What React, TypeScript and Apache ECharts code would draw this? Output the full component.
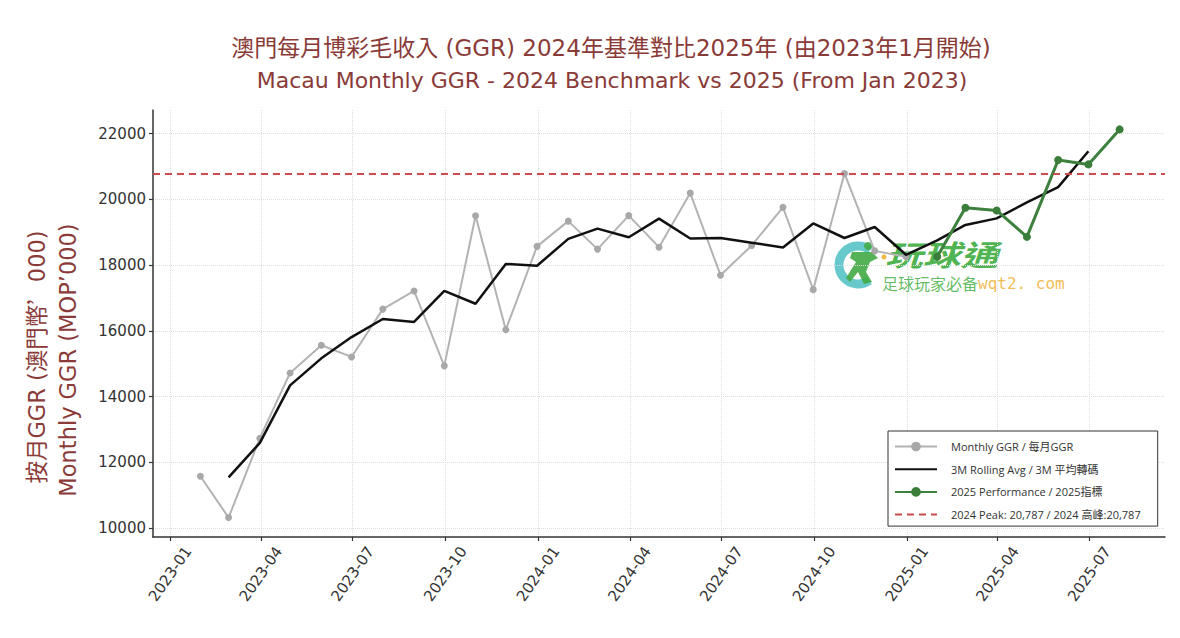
import React, { useEffect, useRef } from "react";
import * as echarts from "echarts";

const ggrDates = [
  "2023-01-31", "2023-02-28", "2023-03-31", "2023-04-30", "2023-05-31", "2023-06-30",
  "2023-07-31", "2023-08-31", "2023-09-30", "2023-10-31", "2023-11-30", "2023-12-31",
  "2024-01-31", "2024-02-29", "2024-03-31", "2024-04-30", "2024-05-31", "2024-06-30",
  "2024-07-31", "2024-08-31", "2024-09-30", "2024-10-31", "2024-11-30", "2024-12-31",
];
const ggrValues = [
  11580, 10324, 12738, 14722, 15565, 15208, 16662, 17213, 14937, 19501, 16036, 18569,
  19337, 18486, 19504, 18545, 20188, 17694, 18597, 19755, 17254, 20787, 18432, 18254,
];

const rollingDates = [
  "2023-02-28", "2023-03-31", "2023-04-30", "2023-05-31", "2023-06-30", "2023-07-31",
  "2023-08-31", "2023-09-30", "2023-10-31", "2023-11-30", "2023-12-31",
  "2024-01-31", "2024-02-29", "2024-03-31", "2024-04-30", "2024-05-31", "2024-06-30",
  "2024-07-31", "2024-08-31", "2024-09-30", "2024-10-31", "2024-11-30", "2024-12-31",
  "2025-01-31", "2025-02-28", "2025-03-31", "2025-04-30", "2025-05-31", "2025-06-30",
];
const rollingValues = [
  11547, 12595, 14342, 15165, 15812, 16361, 16271, 17217, 16825, 18035, 17981,
  18797, 19109, 18845, 19412, 18809, 18826, 18682, 18535, 19265, 18824, 19158, 18313,
  18751, 19220, 19421, 19904, 20370, 21460,
];

const perf2025Dates = [
  "2025-01-31", "2025-02-28", "2025-03-31", "2025-04-30", "2025-05-31", "2025-06-30", "2025-07-31",
];
const perf2025Values = [18254, 19744, 19662, 18857, 21193, 21061, 22125];

const peak2024 = 20787;

const xTickDates = [
  "2023-01-01", "2023-04-01", "2023-07-01", "2023-10-01", "2024-01-01", "2024-04-01",
  "2024-07-01", "2024-10-01", "2025-01-01", "2025-04-01", "2025-07-01",
];
const yTicks = [10000, 12000, 14000, 16000, 18000, 20000, 22000];

const xRange = ["2022-12-15", "2025-09-14"];
const yRange = [9734, 22715];

const seriesNames = [
  "Monthly GGR / 每月GGR",
  "3M Rolling Avg / 3M 平均轉碼",
  "2025 Performance / 2025指標",
  "2024 Peak: 20,787 / 2024 高峰:20,787",
];

const titleLines = [
  "澳門每月博彩毛收入 (GGR) 2024年基準對比2025年 (由2023年1月開始)",
  "Macau Monthly GGR - 2024 Benchmark vs 2025 (From Jan 2023)",
];
const yNameParts = ["按月GGR (澳門幣", "’", "000)"];
const yNameLine2 = "Monthly GGR (MOP’000)";

const toTime = (s: string) => {
  const [y, m, d] = s.split("-").map(Number);
  return new Date(y, m - 1, d).getTime();
};
const pair = (dates: string[], vals: number[]) => dates.map((d, i) => [toTime(d), vals[i]]);

const BROWN = "#8a3b38";
const FONT = "'DejaVu Sans', 'Noto Sans CJK TC', sans-serif";
const CJK = "'Noto Sans CJK TC', 'Noto Sans', sans-serif";

export default function App() {
  const ref = useRef<HTMLDivElement>(null);
  useEffect(() => {
    if (!ref.current) return;
    const chart = echarts.init(ref.current, null, { renderer: "svg" });
    const xTicks = xTickDates.map(toTime);
    chart.setOption({
      animation: false,
      backgroundColor: "#ffffff",
      grid: { left: 153, right: 15, top: 110, bottom: 101, containLabel: false },
      graphic: [
        {
          type: "text", x: 611, y: 48, z: 10,
          style: { text: titleLines[0], fill: BROWN, font: `23px ${FONT}`, textAlign: "center", textVerticalAlign: "middle" },
        },
        {
          type: "text", x: 612, y: 80, z: 10,
          style: { text: titleLines[1], fill: BROWN, font: `22px ${FONT}`, textAlign: "center", textVerticalAlign: "middle" },
        },
        {
          type: "text", x: 37, y: 357, rotation: Math.PI / 2, z: 10,
          style: {
            text: `{a|${yNameParts[0]}}{b|${yNameParts[1]}}{a|${yNameParts[2]}}`,
            textAlign: "center",
            textVerticalAlign: "middle",
            rich: {
              a: { fill: BROWN, fontSize: 22.5, fontFamily: FONT },
              b: { fill: BROWN, fontSize: 22.5, fontFamily: CJK },
            },
          },
        },
        {
          type: "text", x: 68, y: 360, rotation: Math.PI / 2, z: 10,
          style: { text: yNameLine2, fill: BROWN, font: `22.5px ${FONT}`, textAlign: "center", textVerticalAlign: "middle" },
        },
        {
          type: "group", z: 50,
          children: [
            {
              type: "arc",
              shape: { cx: 858, cy: 265, r: 19, startAngle: Math.PI * 0.3, endAngle: Math.PI * 1.72 },
              style: { stroke: "#58c3c8", lineWidth: 9, fill: "none", opacity: 0.9 },
            },
            { type: "circle", shape: { cx: 868, cy: 246, r: 4 }, style: { fill: "#44aa44", opacity: 0.9 } },
            {
              type: "polygon",
              shape: { points: [[852, 252], [872, 252], [878, 258], [870, 262], [866, 272], [872, 282], [864, 284], [858, 272], [850, 282], [846, 278], [856, 262], [850, 258]] },
              style: { fill: "#44aa44", opacity: 0.9 },
            },
            { type: "circle", shape: { cx: 884, cy: 257, r: 2.5 }, style: { fill: "#f0b840" } },
            {
              type: "text", x: 885, y: 253, scaleX: 1.3,
              style: { text: "玩球通", fill: "#46b048", font: `italic bold 29px ${CJK}`, textVerticalAlign: "middle", opacity: 0.95 },
            },
            {
              type: "text", x: 882, y: 283,
              style: { text: "足球玩家必备", fill: "#5ab85a", font: `16px ${CJK}`, textVerticalAlign: "middle", opacity: 0.95 },
            },
            {
              type: "text", x: 978, y: 283,
              style: { text: "wqt2. com", fill: "#f0b84a", font: `16px 'DejaVu Sans Mono', monospace`, textVerticalAlign: "middle", opacity: 0.95 },
            },
          ],
        },
      ],
      legend: {
        orient: "vertical",
        left: 888,
        top: 431,
        padding: [10, 17, 6, 6],
        itemWidth: 42,
        itemHeight: 12,
        itemGap: 11.7,
        borderColor: "#333",
        borderWidth: 1,
        borderRadius: 0,
        backgroundColor: "#ffffff",
        data: [
          { name: seriesNames[0] },
          { name: seriesNames[1], itemStyle: { opacity: 0 } },
          { name: seriesNames[2] },
          { name: seriesNames[3], itemStyle: { opacity: 0 } },
        ],
        textStyle: { fontFamily: "'Open Sans', 'Noto Sans CJK TC', sans-serif", fontSize: 11, color: "#333", padding: [0, 0, 0, 9] },
      },
      xAxis: {
        type: "value",
        min: toTime(xRange[0]),
        max: toTime(xRange[1]),
        axisLine: { show: true, onZero: false, lineStyle: { color: "#333", width: 1.5 } },
        axisTick: { show: true, length: 4, customValues: xTicks, lineStyle: { color: "#333", width: 1.2 } },
        axisLabel: {
          customValues: xTicks,
          rotate: 55,
          margin: 37,
          align: "center",
          verticalAlign: "middle",
          fontSize: 15,
          color: "#333",
          fontFamily: "'DejaVu Sans', sans-serif",
          formatter: (v: number) => {
            const d = new Date(v);
            return `${d.getFullYear()}-${String(d.getMonth() + 1).padStart(2, "0")}`;
          },
        },
        splitLine: { show: true, lineStyle: { color: "#dcdcdc", type: "dotted", width: 1 } },
      },
      yAxis: {
        type: "value",
        min: yRange[0],
        max: yRange[1],
        axisLine: { show: true, onZero: false, lineStyle: { color: "#333", width: 1.5 } },
        axisTick: { show: true, length: 4, customValues: yTicks, lineStyle: { color: "#333", width: 1.2 } },
        axisLabel: {
          customValues: yTicks,
          fontSize: 15,
          color: "#333",
          margin: 7,
          fontFamily: "'DejaVu Sans', sans-serif",
          formatter: (v: number) => String(v),
        },
        splitLine: { show: true, lineStyle: { color: "#dcdcdc", type: "dotted", width: 1 } },
      },
      series: [
        {
          name: seriesNames[0],
          type: "line",
          data: pair(ggrDates, ggrValues),
          color: "#ababab",
          symbol: "circle",
          symbolSize: 7,
          lineStyle: { color: "#b3b3b3", width: 2 },
          itemStyle: { color: "#a8a8a8" },
          z: 2,
        },
        {
          name: seriesNames[1],
          type: "line",
          data: pair(rollingDates, rollingValues),
          color: "#111",
          symbol: "none",
          lineStyle: { color: "#111", width: 2.5 },
          z: 3,
        },
        {
          name: seriesNames[2],
          type: "line",
          data: pair(perf2025Dates, perf2025Values),
          color: "#3b7d3b",
          symbol: "circle",
          symbolSize: 8,
          lineStyle: { color: "#3e803e", width: 3 },
          itemStyle: { color: "#3b7d3b" },
          z: 4,
        },
        {
          name: seriesNames[3],
          type: "line",
          data: [],
          color: "#c94c4c",
          symbol: "none",
          lineStyle: { color: "#c94c4c", width: 1.8, type: [7, 5] },
          markLine: {
            silent: true,
            symbol: "none",
            label: { show: false },
            lineStyle: { color: "#d04c4c", width: 1.8, type: [7, 5] },
            data: [{ yAxis: peak2024 }],
          },
          z: 1,
        },
      ],
    });
    return () => chart.dispose();
  }, []);
  return <div ref={ref} style={{ width: 1180, height: 638, margin: -8 }} />;
}
